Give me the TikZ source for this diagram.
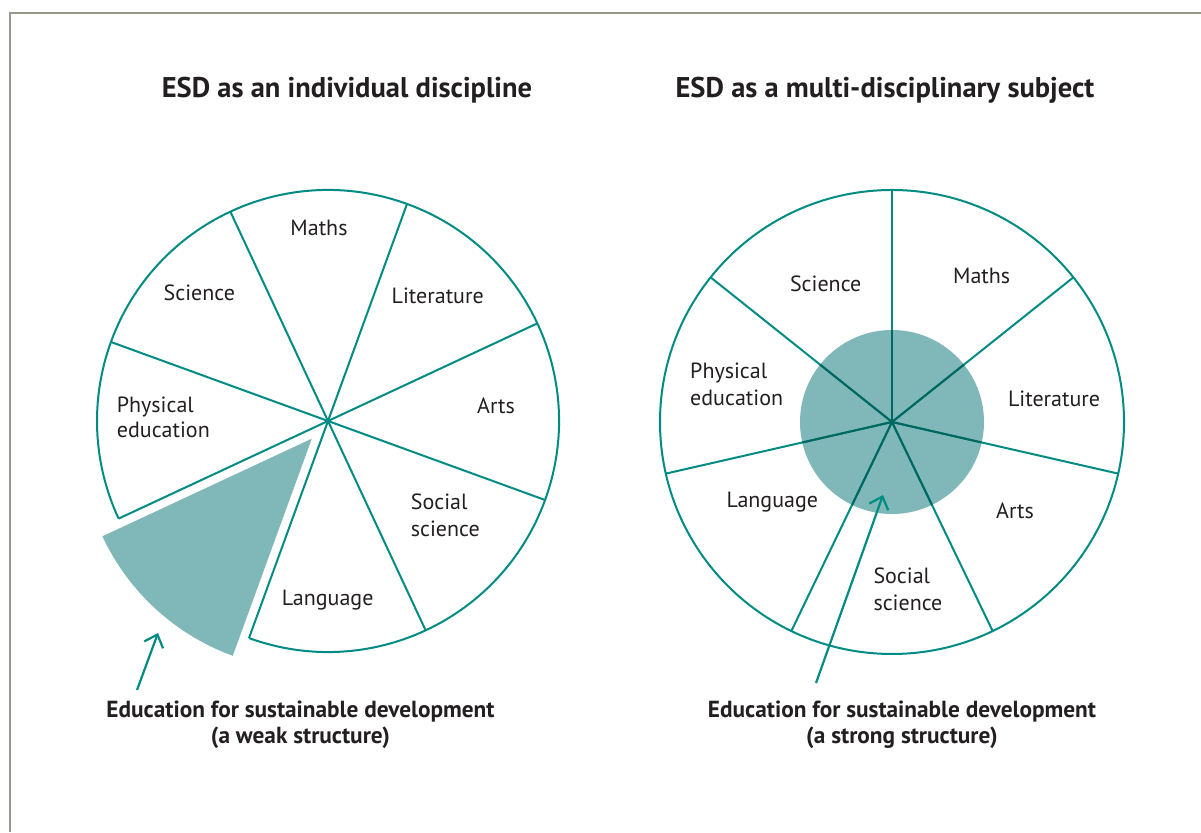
\documentclass[tikz,border=0pt]{standalone}
\usepackage{fontspec}
\setmainfont{PT Sans}
\usetikzlibrary{arrows.meta}
\definecolor{teal1}{RGB}{0,140,130}
\definecolor{tealfill}{RGB}{128,184,186}
\definecolor{tealdark}{RGB}{0,102,96}
\definecolor{txt}{RGB}{35,31,32}
\definecolor{framec}{RGB}{150,154,140}
\begin{document}
\begin{tikzpicture}[x=1pt,y=1pt,
  pie/.style={draw=teal1,line width=2pt,line join=round},
  lbl/.style={font=\fontsize{22}{26}\selectfont,text=txt,inner sep=0pt,anchor=base},
  lbll/.style={lbl,anchor=base west},
  ttl/.style={font=\fontsize{28.5}{32}\selectfont\bfseries,text=txt,inner sep=0pt,anchor=base},
  capt/.style={font=\fontsize{23.3}{27}\selectfont\bfseries,text=txt,inner sep=0pt,anchor=base},
  pointer/.style={draw=teal1,line width=2.2pt,-{Straight Barb[length=11pt,width=20pt]}}
]
\useasboundingbox (0,0) rectangle (1201,832);
\fill[white] (0,0) rectangle (1201,832);
\draw[framec,line width=1.5pt] (10,0) -- (10,819) -- (1201,819);

% ---------- left pie ----------
\coordinate (c1) at (328,411);
\fill[tealfill,shift={(c1)},shift={(227.5:24)}] (0,0) -- (205:231) arc[start angle=205,end angle=250,radius=231] -- cycle;
\draw[pie] (c1) ++(250:231) arc[start angle=250,end angle=565,radius=231];
\foreach \a in {25,70,...,340} \draw[pie] (c1) -- ++(\a:231);

\node[lbl] (l-maths) at (319,596.5) {Maths};
\node[lbl] (l-sci) at (199.3,531) {Science};
\node[lbl] (l-lit) at (437.7,528) {Literature};
\node[lbl] (l-arts) at (496,418) {Arts};
\node[lbl] (l-lang) at (327.7,226.5) {Language};
\node[lbll] (l-pe1) at (116.7,419.6) {Physical};
\node[lbll] (l-pe2) at (116.7,394) {education};
\node[lbll] (l-ss1) at (410.7,322) {Social};
\node[lbll] (l-ss2) at (410.7,295) {science};

% ---------- right pie ----------
\coordinate (c2) at (892,410);
\fill[tealfill] (c2) circle[radius=92];
\draw[pie] (c2) circle[radius=232];
\foreach \k in {0,...,6} \draw[pie] (c2) -- ++({90-\k*360/7}:232);
\begin{scope}
  \clip (c2) circle[radius=92];
  \foreach \k in {0,...,6} \draw[pie,draw=tealdark] (c2) -- ++({90-\k*360/7}:232);
\end{scope}

\node[lbl] (r-sci) at (825.7,540) {Science};
\node[lbl] (r-maths) at (981.7,548.3) {Maths};
\node[lbl] (r-lit) at (1054,425.7) {Literature};
\node[lbl] (r-arts) at (1015,313.3) {Arts};
\node[lbl] (r-lang) at (772.3,324) {Language};
\node[lbll] (r-pe1) at (690,453.3) {Physical};
\node[lbll] (r-pe2) at (690,426) {education};
\node[lbll] (r-ss1) at (873.3,248.3) {Social};
\node[lbll] (r-ss2) at (873.3,221) {science};

% ---------- titles ----------
\node[ttl] (t-left) at (347,734) {ESD as an individual discipline};
\node[ttl] (t-right) at (885,734) {ESD as a multi-disciplinary subject};

% ---------- captions ----------
\node[capt] (cap-l1) at (300.5,114) {Education for sustainable development};
\node[capt] (cap-l2) at (300.5,88) {(a weak structure)};
\node[capt] (cap-r1) at (902,114) {Education for sustainable development};
\node[capt] (cap-r2) at (902,88) {(a strong structure)};

% ---------- pointers ----------
\coordinate (pl0) at (137,142);
\coordinate (pl1) at (158,199);
\coordinate (pr0) at (816,149);
\coordinate (pr1) at (883,337);
\draw[pointer] (pl0) -- (pl1);
\draw[pointer] (pr0) -- (pr1);
\end{tikzpicture}
\end{document}
